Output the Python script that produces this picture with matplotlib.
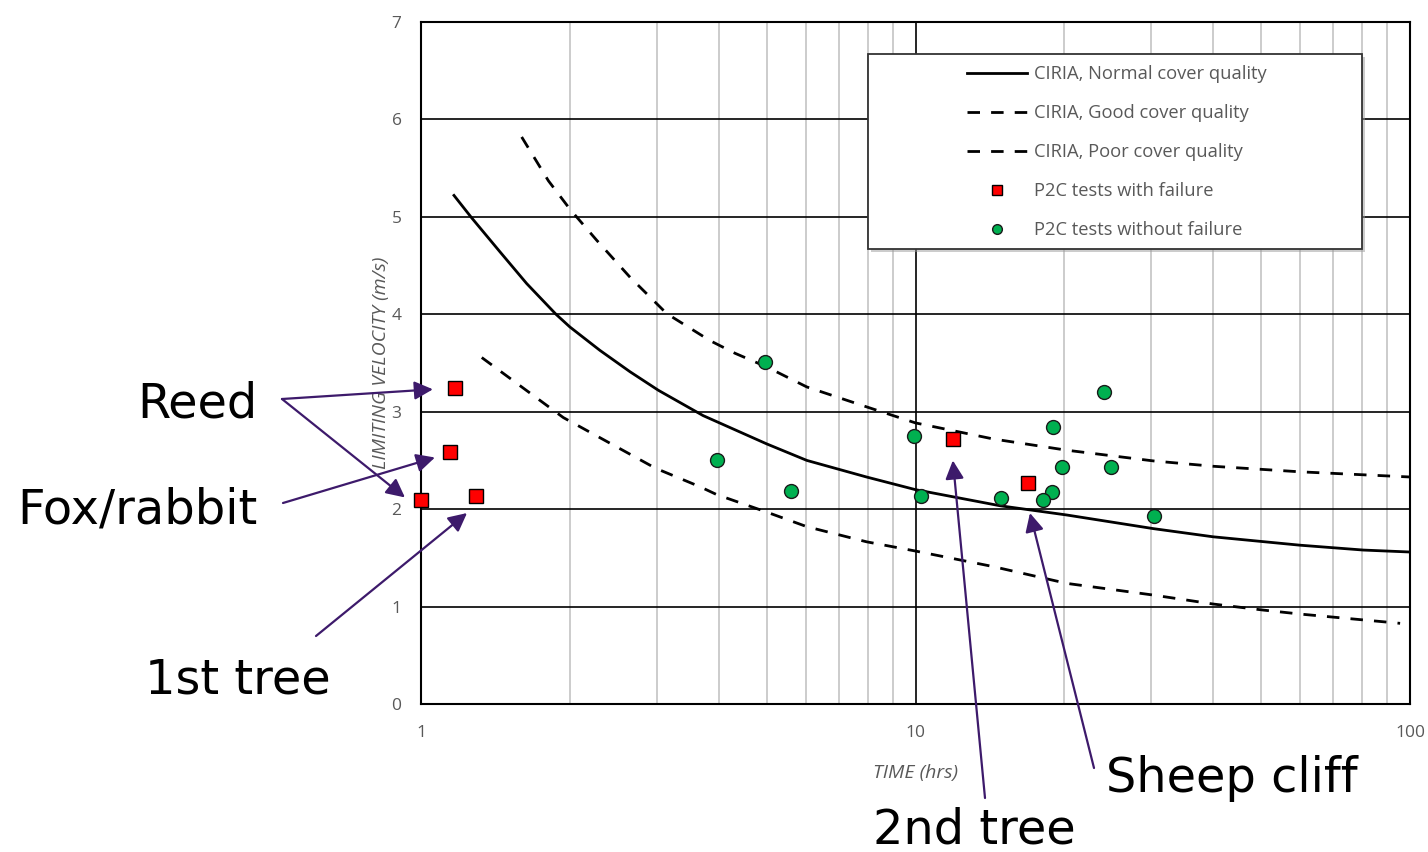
"""
Limiting velocity vs time: CIRIA design curves with P2C test results.
"""

import matplotlib
matplotlib.use("Agg")
import matplotlib.pyplot as plt
from matplotlib.patches import Rectangle
from matplotlib.ticker import LogLocator, NullFormatter, FixedLocator, FixedFormatter

W, H = 1428, 852

# CIRIA curves
normal_t = [1.166, 1.266, 1.445, 1.636, 1.875, 2.0, 2.30, 2.647, 3.02, 3.72, 5.0, 6.03,
            7.96, 10.0, 14.82, 20.22, 30.27, 40.0, 59.9, 80.5, 100]
normal_v = [5.22, 4.99, 4.64, 4.315, 4.0, 3.87, 3.63, 3.41, 3.22, 2.96, 2.67, 2.50,
            2.33, 2.20, 2.035, 1.94, 1.80, 1.716, 1.63, 1.58, 1.56]

good_t = [1.598, 1.81, 2.0, 2.266, 2.647, 3.14, 3.84, 4.315, 5.0, 6.03, 7.96, 10.0,
          14.37, 20.22, 30.27, 40.0, 60.0, 100]
good_v = [5.82, 5.37, 5.08, 4.76, 4.38, 4.007, 3.73, 3.60, 3.46, 3.254, 3.05, 2.885,
          2.72, 2.605, 2.495, 2.44, 2.383, 2.33]

poor_t = [1.327, 1.94, 2.98, 3.666, 3.96, 5.0, 6.03, 7.96, 10.0, 14.37, 20.22, 30.27,
          40.0, 50.5, 60.0, 95.5]
poor_v = [3.556, 2.94, 2.42, 2.23, 2.15, 1.97, 1.82, 1.665, 1.57, 1.41, 1.238, 1.118,
          1.026, 0.964, 0.923, 0.828]

# P2C tests
fail_t = [1.17, 1.143, 1.0, 1.294, 11.9, 16.9]
fail_v = [3.24, 2.59, 2.09, 2.13, 2.72, 2.27]

ok_t = [4.96, 3.97, 5.6, 9.94, 10.26, 24.1, 19.0, 19.8, 24.9, 18.9, 18.1, 14.9, 30.3]
ok_v = [3.51, 2.50, 2.19, 2.75, 2.13, 3.20, 2.84, 2.43, 2.43, 2.18, 2.09, 2.11, 1.93]

y_ticks = [0, 1, 2, 3, 4, 5, 6, 7]
x_ticks = [1, 10, 100]
x_tick_labels = ["1", "10", "100"]

# annotations: label, tip (data), tail (figure px), text pos (figure px), alignment
notes = [
    ("Reed", (1.057, 3.23), (282, 399), (258, 417), "right"),
    (None, (0.928, 2.12), (282, 399), None, None),
    ("Fox/rabbit", (1.067, 2.53), (283, 503), (258, 523), "right"),
    ("1st tree", (1.239, 1.96), (316, 636), (145, 693), "left"),
    ("2nd tree", (11.9, 2.50), (985, 798), (873, 844), "left"),
    ("Sheep cliff", (17.04, 1.96), (1094, 768), (1106, 792), "left"),
]

PURPLE = "#3d1a6b"
TICK_COLOR = "#595959"


def fx(x):
    return x / W


def fy(y):
    return 1 - y / H


fig = plt.figure(figsize=(W / 100, H / 100), dpi=100)
ax = fig.add_axes([fx(421), fy(704), fx(1410) - fx(421), fy(22) - fy(704)])

ax.set_xscale("log")
ax.set_xlim(1, 100)
ax.set_ylim(0, 7)

# grid
ax.xaxis.set_major_locator(FixedLocator(x_ticks))
ax.xaxis.set_major_formatter(FixedFormatter(x_tick_labels))
ax.xaxis.set_minor_locator(LogLocator(base=10, subs=range(2, 10)))
ax.xaxis.set_minor_formatter(NullFormatter())
ax.set_yticks(y_ticks)
ax.grid(which="minor", axis="x", color="#c8c8c8", lw=1.3, zorder=0)
ax.grid(which="major", axis="x", color="black", lw=1.2, zorder=0)
ax.grid(which="major", axis="y", color="black", lw=1.2, zorder=0)
ax.set_axisbelow(True)
ax.tick_params(which="both", length=0)
ax.tick_params(axis="y", pad=14, labelsize=12.5, labelcolor=TICK_COLOR)
ax.tick_params(axis="x", pad=15, labelsize=12.5, labelcolor=TICK_COLOR)
for lab in ax.get_xticklabels() + ax.get_yticklabels():
    lab.set_family("Open Sans")
for s in ax.spines.values():
    s.set_color("black")
    s.set_linewidth(1.5)

ax.set_xlabel("TIME (hrs)", fontsize=14, style="italic", color=TICK_COLOR,
              family="Open Sans", labelpad=17)
ax.set_ylabel("LIMITING VELOCITY (m/s)", fontsize=14, style="italic", color=TICK_COLOR,
              family="Open Sans", labelpad=1)

dash = (0, (4.5, 4))
ax.plot(normal_t, normal_v, color="black", lw=2.0, label="CIRIA, Normal cover quality", zorder=3)
ax.plot(good_t, good_v, color="black", lw=2.0, ls=dash, label="CIRIA, Good cover quality", zorder=3)
ax.plot(poor_t, poor_v, color="black", lw=2.0, ls=dash, label="CIRIA, Poor cover quality", zorder=3)
ax.plot(fail_t, fail_v, ls="none", marker="s", ms=10, mfc="#ff0000", mec="black", mew=1.0,
        label="P2C tests with failure", zorder=4, clip_on=False)
ax.plot(ok_t, ok_v, ls="none", marker="o", ms=10, mfc="#00b050", mec="#1a1a1a", mew=1.0,
        label="P2C tests without failure", zorder=4)

# legend frame with shadow, then a frameless legend inside it
shadow = Rectangle((fx(871), fy(252)), fx(494), 195 / H, transform=fig.transFigure,
                   facecolor="#9a9a9a", edgecolor="none", alpha=0.5, zorder=5)
frame = Rectangle((fx(868), fy(249)), fx(494), 195 / H, transform=fig.transFigure,
                  facecolor="white", edgecolor="#333333", lw=1.3, zorder=6)
ax.add_artist(shadow)
ax.add_artist(frame)

handles, labels = ax.get_legend_handles_labels()
leg = ax.legend(handles, labels, frameon=False, loc="upper left",
                bbox_to_anchor=(fx(967), fy(65)), bbox_transform=fig.transFigure,
                prop={"family": "Open Sans", "size": 13.2}, handlelength=3.27,
                handletextpad=0.38, labelspacing=1.15, borderpad=0, borderaxespad=0,
                markerscale=0.7)
leg.set_zorder(7)
for t in leg.get_texts():
    t.set_color(TICK_COLOR)

# annotations
for label, tip, tail, pos, ha in notes:
    ax.annotate("", xy=tip, xycoords="data",
                xytext=(fx(tail[0]), fy(tail[1])), textcoords="figure fraction",
                arrowprops=dict(arrowstyle="-|>", color=PURPLE, lw=1.6,
                                mutation_scale=28, shrinkA=0, shrinkB=0),
                annotation_clip=False, zorder=8)
    if label:
        fig.text(fx(pos[0]), fy(pos[1]), label, ha=ha, va="baseline",
                 fontsize=34.5, color="black", family="DejaVu Sans")

fig.savefig("out.png", dpi=100)
